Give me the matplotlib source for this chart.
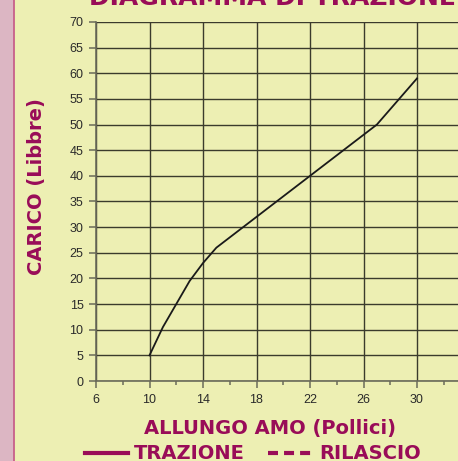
import matplotlib.pyplot as plt
from matplotlib.patches import Rectangle
from matplotlib.lines import Line2D

# traction curve
allungo = [10, 11, 12, 13, 14, 15, 18, 22, 27, 30]
carico = [5, 10.5, 15, 19.5, 23, 26, 32, 40, 50, 59]
xticks = [6, 10, 14, 18, 22, 26, 30]
yticks = list(range(0, 75, 5))

bg = '#edefb3'
mag = '#990c58'

W, H = 458, 461
fig = plt.figure(figsize=(W / 100, H / 100), dpi=100, facecolor=bg)

# pink strip on the left
fig.patches.append(Rectangle((0, 0), 14 / W, 1, transform=fig.transFigure,
                             facecolor='#dcb6c3', edgecolor='none', zorder=0))
fig.lines.append(Line2D([14.5 / W, 14.5 / W], [0, 1], transform=fig.transFigure,
                        color='#c8608a', lw=1.3))

ax = fig.add_axes([96 / W, 80 / H, 374.5 / W, 359 / H])
ax.set_facecolor(bg)
ax.plot(allungo, carico, color='#1a1a1a', lw=1.3, zorder=3)

ax.set_xlim(6, 34)
ax.set_ylim(0, 70)
ax.set_xticks(xticks)
ax.set_xticks(range(6, 35, 2), minor=True)
ax.set_yticks(yticks)
ax.grid(True, color='#3b3b2c', lw=1.0)
ax.set_axisbelow(True)
for s in ['top', 'right']:
    ax.spines[s].set_visible(False)
for s in ['left', 'bottom']:
    ax.spines[s].set_color('#6a6a5a')
    ax.spines[s].set_linewidth(1.2)
ax.tick_params(axis='both', which='major', length=5, width=1.1, color='#6a6a5a',
               labelsize=9, labelcolor='#2a2a2a', direction='out', pad=4)
ax.tick_params(axis='x', which='minor', length=3, width=1.1, color='#6a6a5a')
for lab in ax.get_xticklabels() + ax.get_yticklabels():
    lab.set_fontfamily('Liberation Sans')

# texts (title is cut at the top, as in the original)
fig.text(272 / W, 1 + 2 / H, 'DIAGRAMMA DI TRAZIONE', ha='center', va='center',
         fontsize=18, fontweight='bold', color=mag, family='DejaVu Sans')
fig.text(37 / W, 1 - 187 / H, 'CARICO (Libbre)', rotation=90, ha='center', va='center',
         fontsize=14, fontweight='bold', color=mag, family='DejaVu Sans')
fig.text(270 / W, 1 - 428 / H, 'ALLUNGO AMO (Pollici)', ha='center', va='center',
         fontsize=14, fontweight='bold', color=mag, family='DejaVu Sans')

# legend
ly = 1 - 453 / H
fig.lines.append(Line2D([85 / W, 128 / W], [ly, ly], transform=fig.transFigure,
                        color=mag, lw=3))
fig.text(134 / W, ly, 'TRAZIONE', ha='left', va='center', fontsize=14,
         fontweight='bold', color=mag, family='DejaVu Sans')
fig.lines.append(Line2D([268 / W, 311 / W], [ly, ly], transform=fig.transFigure,
                        color=mag, lw=3, linestyle=(0, (2.4, 1.45))))
fig.text(319 / W, ly, 'RILASCIO', ha='left', va='center', fontsize=14,
         fontweight='bold', color=mag, family='DejaVu Sans')

fig.savefig('out.png', dpi=100, facecolor=bg)
